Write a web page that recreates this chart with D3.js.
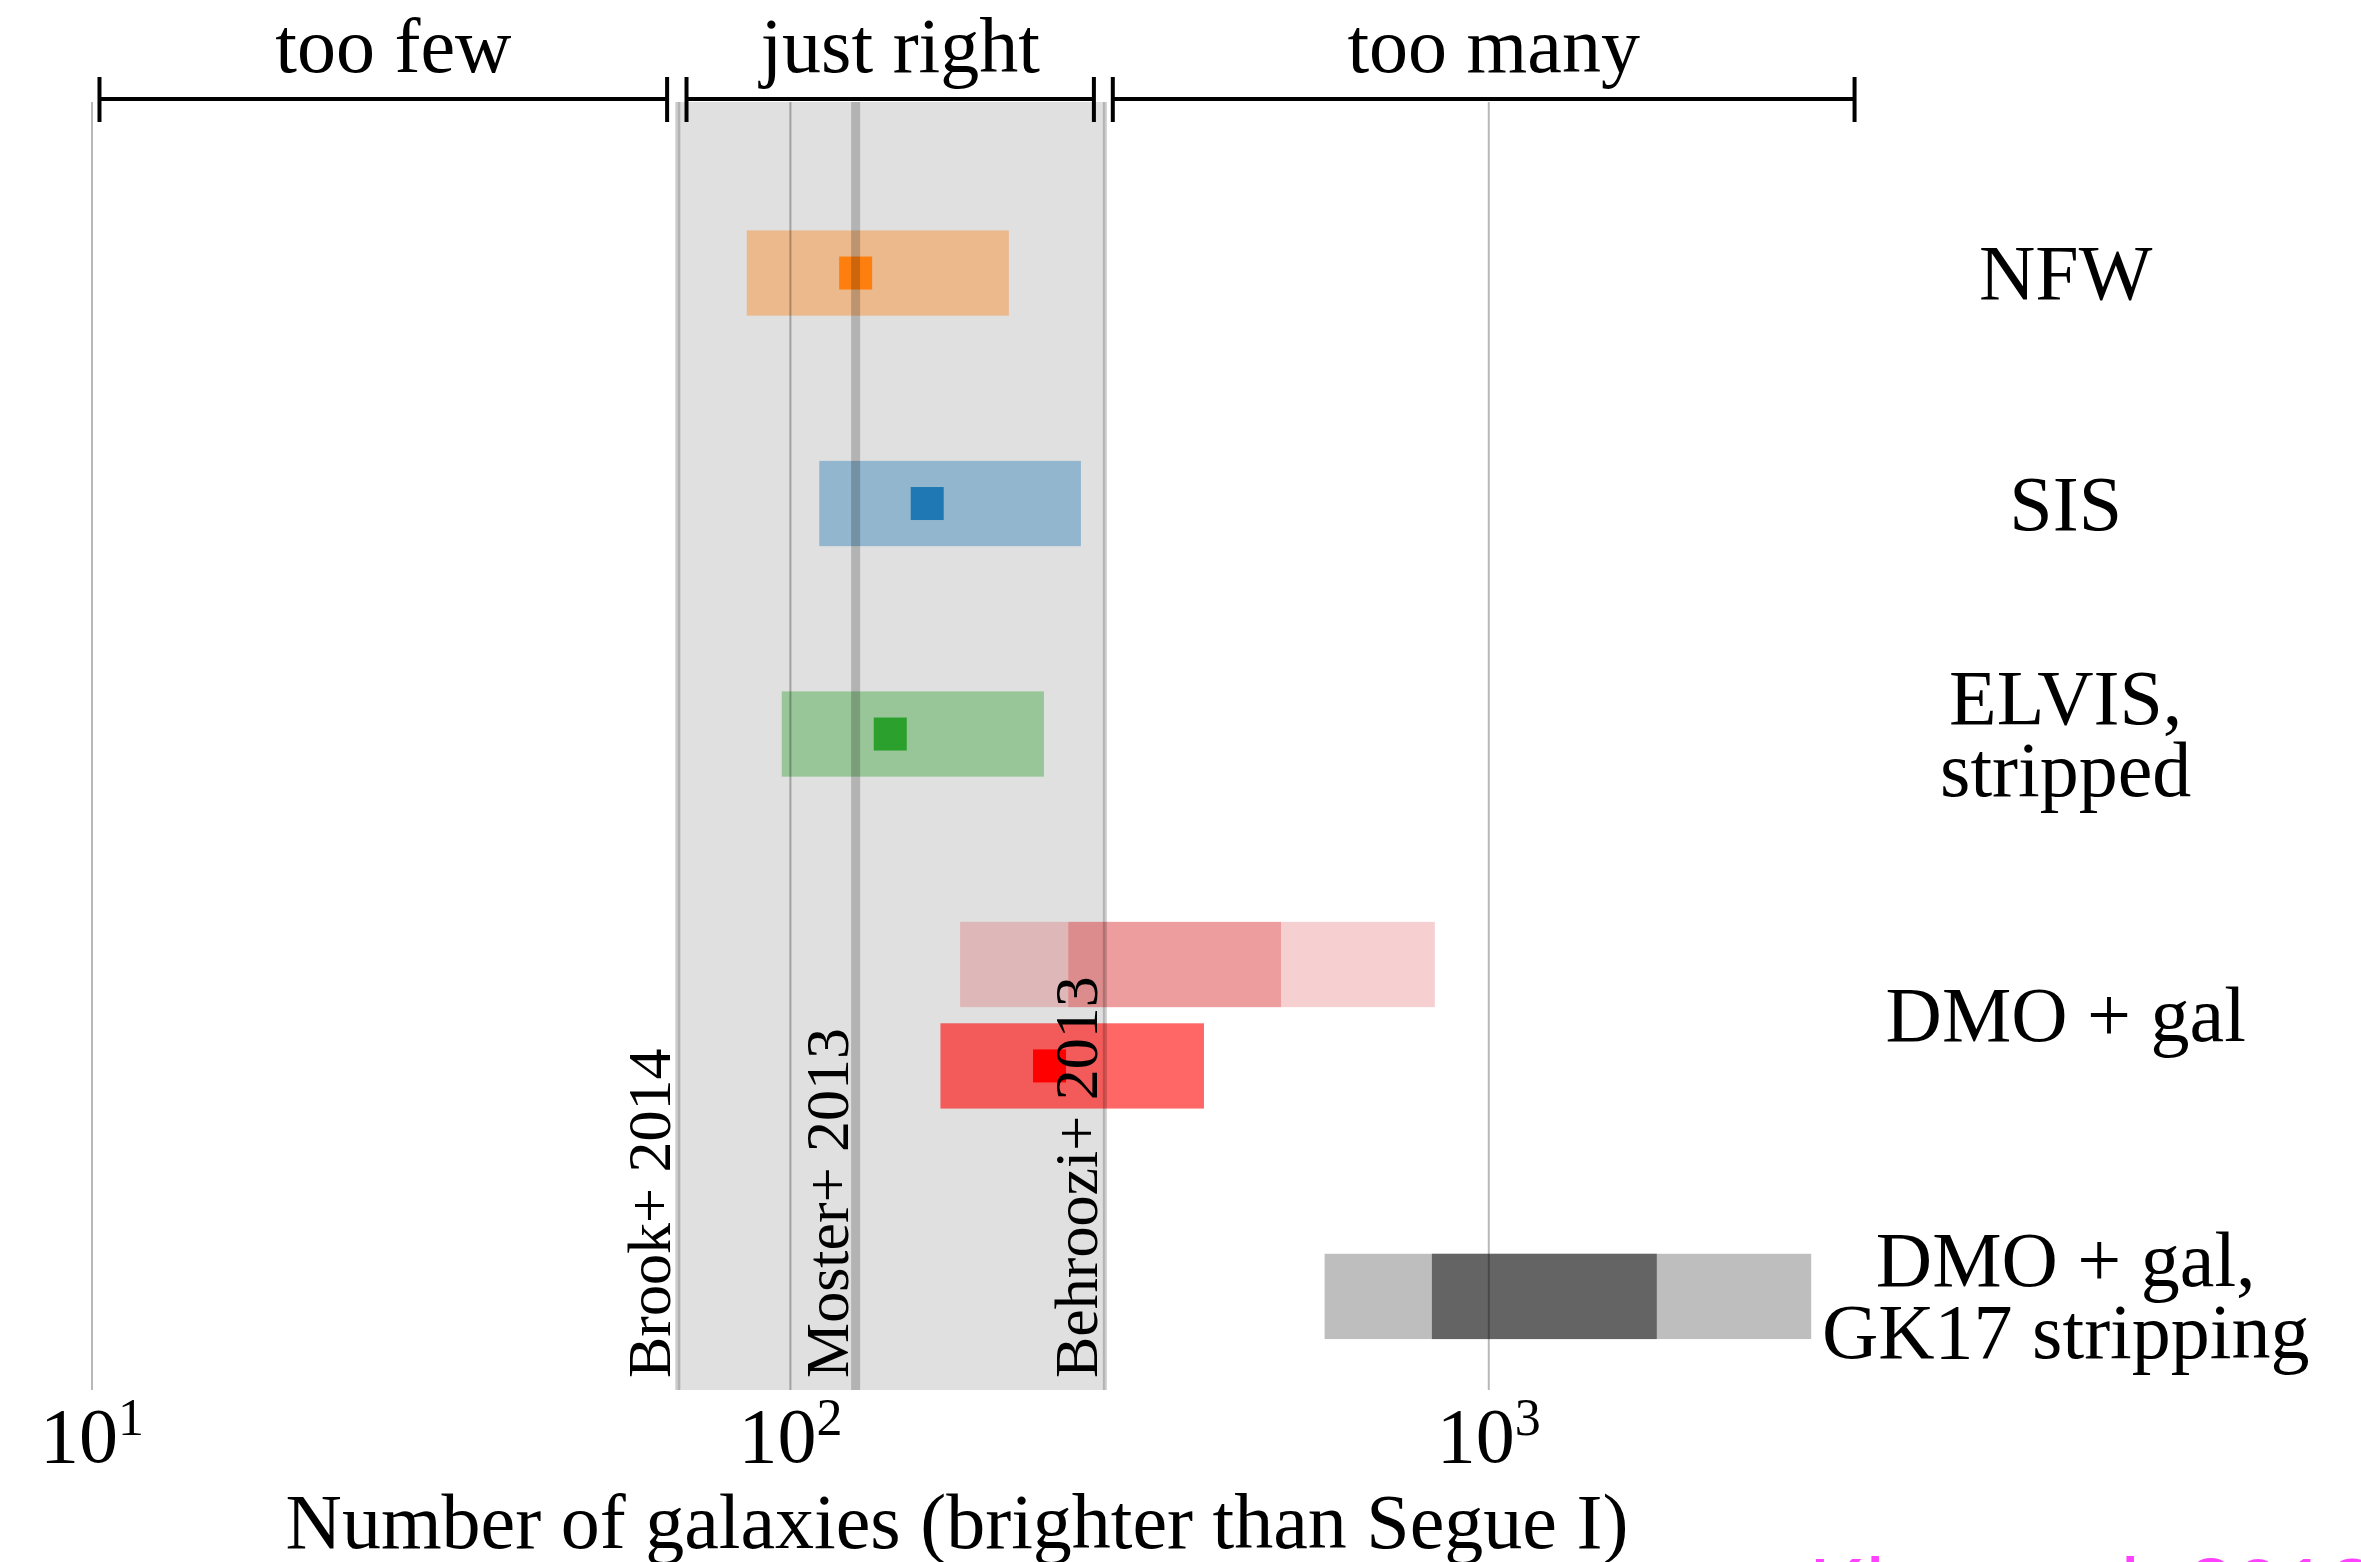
<!DOCTYPE html>
<html lang="en">
<head>
<meta charset="UTF-8">
<title>satellite_counts</title>
<script src="https://cdn.jsdelivr.net/npm/d3@7"></script>
<style>
  body{margin:0;background:#fff;}
  text{font-family:"Liberation Serif","Times New Roman",serif;fill:#000;}
</style>
</head>
<body>
<svg id="chart"></svg>
<script>
// ---- data (number of galaxies brighter than Segue I) ----
// row = vertical position of each band, in "row" units (NFW on top)
var bandNames = ["NFW", "SIS", "ELVIS", "DMO + gal (all)", "DMO + gal", "GK17"];
var bandRows  = [0, 1, 2, 3, 3.44, 4.44];
var bandLo    = [86.6, 110, 97.2, 175, 164, 582];
var bandHi    = [205.5, 260.6, 230.7, 837, 391, 2895];

// inner (68%) part of the two wide bands
var innerNames = ["DMO + gal (all)", "GK17"];
var innerRows  = [3, 4.44];
var innerLo    = [250, 829];
var innerHi    = [504, 1740];

// best estimates, drawn as squares
var bestNames = ["NFW", "SIS", "ELVIS", "DMO + gal"];
var bestRows  = [0, 1, 2, 3.44];
var bestVal   = [124, 157, 139, 235];

// abundance matching predictions
var refNames = ["Brook+ 2014", "Moster+ 2013", "Behroozi+ 2013"];
var refVal   = [69, 124, 282];

// regions shown by the brackets on top
var regionNames = ["too few", "just right", "too many"];
var regionLo    = [10.25, 71, 289.5];
var regionHi    = [66.6, 272, 3340];

// labels on the right
var rowLabels = [["NFW"], ["SIS"], ["ELVIS,", "stripped"], ["DMO + gal"], ["DMO + gal,", "GK17 stripping"]];
var labelRows = [0, 1, 2, 3.22, 4.44];
var labelAt = 6700;

var tickVals = [10, 100, 1000];
var tickExp  = ["1", "2", "3"];

// ---- styles ----
var fill = {
    "NFW": ["#ff7f0e", 0.4], "SIS": ["#1f77b4", 0.4], "ELVIS": ["#2ca02c", 0.4],
    "DMO + gal (all)": ["#d62728", 0.22], "DMO + gal": ["#ff0000", 0.6], "GK17": ["#bebebe", 1]
};
var innerFill = { "DMO + gal (all)": ["#d62728", 0.3], "GK17": ["#646464", 1] };
var markFill = { "NFW": "#ff7f0e", "SIS": "#1f77b4", "ELVIS": "#2ca02c", "DMO + gal": "#ff0000" };
var refWidth = { "Brook+ 2014": 5, "Moster+ 2013": 9, "Behroozi+ 2013": 4 };

var W = 2361, H = 1562;
var svg = d3.select("#chart").attr("width", W).attr("height", H);
svg.append("rect").attr("width", W).attr("height", H).attr("fill", "#fff");

var x = d3.scaleLog().domain([10, 3000]).range([92, 1822]);
var y = d3.scaleLinear().domain([-0.742, 4.846]).range([102, 1390]);
var barH = y(0.185) - y(-0.185);
var markSize = 33;

// "just right" shading between the abundance matching predictions
svg.append("rect")
    .attr("x", x(d3.min(refVal)))
    .attr("width", x(d3.max(refVal)) - x(d3.min(refVal)))
    .attr("y", y.range()[0])
    .attr("height", y.range()[1] - y.range()[0])
    .attr("fill", "#e0e0e0");

// bands
svg.append("g").selectAll("rect")
    .data(bandNames)
    .enter().append("rect")
    .attr("x", function(d, i){ return x(bandLo[i]); })
    .attr("width", function(d, i){ return x(bandHi[i]) - x(bandLo[i]); })
    .attr("y", function(d, i){ return y(bandRows[i]) - barH / 2; })
    .attr("height", barH)
    .attr("fill", function(d){ return fill[d][0]; })
    .attr("fill-opacity", function(d){ return fill[d][1]; });

svg.append("g").selectAll("rect")
    .data(innerNames)
    .enter().append("rect")
    .attr("x", function(d, i){ return x(innerLo[i]); })
    .attr("width", function(d, i){ return x(innerHi[i]) - x(innerLo[i]); })
    .attr("y", function(d, i){ return y(innerRows[i]) - barH / 2; })
    .attr("height", barH)
    .attr("fill", function(d){ return innerFill[d][0]; })
    .attr("fill-opacity", function(d){ return innerFill[d][1]; });

// best estimates
svg.append("g").selectAll("rect")
    .data(bestNames)
    .enter().append("rect")
    .attr("x", function(d, i){ return x(bestVal[i]) - markSize / 2; })
    .attr("y", function(d, i){ return y(bestRows[i]) - markSize / 2; })
    .attr("width", markSize)
    .attr("height", markSize)
    .attr("fill", function(d){ return markFill[d]; });

// grid lines at the decades
svg.append("g").selectAll("line")
    .data(tickVals)
    .enter().append("line")
    .attr("x1", function(d){ return x(d); })
    .attr("x2", function(d){ return x(d); })
    .attr("y1", y.range()[0])
    .attr("y2", y.range()[1])
    .attr("stroke", "#000")
    .attr("stroke-opacity", 0.28)
    .attr("stroke-width", 2);

// abundance matching lines
svg.append("g").selectAll("line")
    .data(refNames)
    .enter().append("line")
    .attr("x1", function(d, i){ return x(refVal[i]); })
    .attr("x2", function(d, i){ return x(refVal[i]); })
    .attr("y1", y.range()[0])
    .attr("y2", y.range()[1])
    .attr("stroke", "#000")
    .attr("stroke-opacity", 0.2)
    .attr("stroke-width", function(d){ return refWidth[d]; });

svg.append("g").selectAll("text")
    .data(refNames)
    .enter().append("text")
    .attr("transform", function(d, i){
        return "translate(" + (x(refVal[i]) - 8) + "," + (y.range()[1] - 12) + ") rotate(-90)";
    })
    .attr("font-size", 62)
    .text(function(d){ return d; });

// brackets on top
var bracketY = 99;
var brackets = svg.append("g").selectAll("g")
    .data(regionNames)
    .enter().append("g")
    .attr("stroke", "#000")
    .attr("stroke-width", 4);
brackets.append("line")
    .attr("x1", function(d, i){ return x(regionLo[i]); })
    .attr("x2", function(d, i){ return x(regionHi[i]); })
    .attr("y1", bracketY).attr("y2", bracketY);
brackets.append("line")
    .attr("x1", function(d, i){ return x(regionLo[i]); })
    .attr("x2", function(d, i){ return x(regionLo[i]); })
    .attr("y1", bracketY - 22).attr("y2", bracketY + 23);
brackets.append("line")
    .attr("x1", function(d, i){ return x(regionHi[i]); })
    .attr("x2", function(d, i){ return x(regionHi[i]); })
    .attr("y1", bracketY - 22).attr("y2", bracketY + 23);

svg.append("g").selectAll("text")
    .data(regionNames)
    .enter().append("text")
    .attr("x", function(d, i){ return (x(regionLo[i]) + x(regionHi[i])) / 2 + 10; })
    .attr("y", 72)
    .attr("text-anchor", "middle")
    .attr("font-size", 78)
    .text(function(d){ return d; });

// labels on the right
var lineGap = 72;
svg.append("g").selectAll("text")
    .data(rowLabels)
    .enter().append("text")
    .attr("text-anchor", "middle")
    .attr("font-size", 78)
    .each(function(d, i){
        var t = d3.select(this);
        var base = y(labelRows[i]) + 26 - (d.length - 1) * lineGap / 2;
        d.forEach(function(s, k){
            t.append("tspan")
                .attr("x", x(labelAt))
                .attr("y", base + k * lineGap)
                .text(s);
        });
    });

// x axis tick labels 10^n
var ticks = svg.append("g").selectAll("text")
    .data(tickVals)
    .enter().append("text")
    .attr("x", function(d){ return x(d); })
    .attr("y", 1462)
    .attr("text-anchor", "middle")
    .attr("font-size", 78);
ticks.append("tspan").text("10");
ticks.append("tspan")
    .attr("dy", -27)
    .attr("font-size", 52)
    .text(function(d, i){ return tickExp[i]; });

svg.append("text")
    .attr("x", (x.range()[0] + x.range()[1]) / 2)
    .attr("y", 1548)
    .attr("text-anchor", "middle")
    .attr("font-size", 78)
    .text("Number of galaxies (brighter than Segue I)");

// cut-off citation at the bottom edge
svg.append("text")
    .attr("x", 1809)
    .attr("y", 1618)
    .attr("font-size", 85)
    .style("font-family", "'Liberation Sans', Arial, sans-serif")
    .style("fill", "#ff40ff")
    .text("Kim et al. 2018");
</script>
</body>
</html>
